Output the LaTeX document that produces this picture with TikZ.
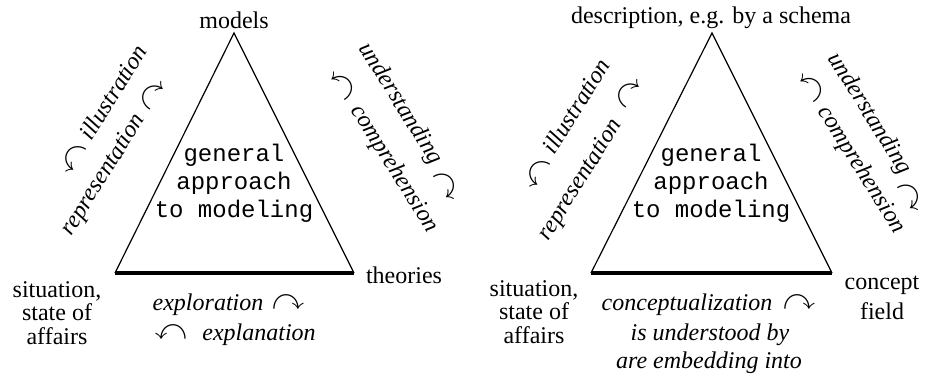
\documentclass[tikz,border=0pt]{standalone}
\usepackage{amssymb}
\usepackage{fontspec}
\setmainfont{Liberation Serif}
\setmonofont{Liberation Mono}

\tikzset{
	vertex/.style={font=\fontsize{12}{11.8}\selectfont, align=center},
	turn/.style={font=\fontsize{12}{14.4}\selectfont\itshape, align=center},
	arr/.style={font=\fontsize{12}{14.4}\selectfont, inner sep=0pt, scale=1.35},
	core/.style={font=\fontsize{12}{14}\selectfont\ttfamily, align=center},
	edge/.style={line width=0.6pt, line join=miter},
	base/.style={line width=1.6pt}
}

\begin{document}
\begin{tikzpicture}[x=0.5pt, y=-0.5pt]
	\useasboundingbox (0,0) rectangle (935,376);

	% left triangle
	\coordinate (topL) at (234,33);
	\coordinate (leftL) at (115,273);
	\coordinate (rightL) at (354,273);
	\draw[edge] (leftL) -- (topL) -- (rightL);
	\draw[base] (leftL) -- (rightL);

	\node[core] (coreL) at (234,183) {general\\approach\\to modeling};
	\node[vertex] (modelsL) at (234,20) {models};
	\node[vertex] (sitL) at (57,313) {situation,\\state of\\affairs};
	\node[vertex] (theoL) at (404,275) {theories};

	\node[turn, rotate=58] (illL) at (113,92) {illustration};
	\node[arr, rotate=58] (illArrL) at (73,158) {$\curvearrowleft$};
	\node[turn, rotate=58] (repL) at (104,175) {representation};
	\node[arr, rotate=58] (repArrL) at (152,94) {$\curvearrowright$};

	\node[turn, rotate=-58] (undL) at (400,104) {understanding};
	\node[arr, rotate=-58] (undArrL) at (447,186) {$\curvearrowright$};
	\node[turn, rotate=-58] (comL) at (394,169) {comprehension};
	\node[arr, rotate=-58] (comArrL) at (343,85) {$\curvearrowleft$};

	\node[turn] (explorL) at (208,305) {exploration};
	\node[arr] (explorArrL) at (288,303) {$\curvearrowright$};
	\node[turn] (explanL) at (259,335) {explanation};
	\node[arr] (explanArrL) at (171,333) {$\curvearrowleft$};

	% right triangle
	\coordinate (topR) at (712,33);
	\coordinate (leftR) at (591,273);
	\coordinate (rightR) at (832,273);
	\draw[edge] (leftR) -- (topR) -- (rightR);
	\draw[base] (leftR) -- (rightR);

	\node[core] (coreR) at (711,183) {general\\approach\\to modeling};
	\node[vertex] (descR) at (711,18) {description, e.g. by a schema};
	\node[vertex] (sitR) at (534,312) {situation,\\state of\\affairs};
	\node[vertex, font=\fontsize{12}{15}\selectfont] (fieldR) at (882,298) {concept\\field};

	\node[turn, rotate=58] (illR) at (576,106) {illustration};
	\node[arr, rotate=58] (illArrR) at (537,173) {$\curvearrowleft$};
	\node[turn, rotate=58] (repR) at (581,180) {representation};
	\node[arr, rotate=58] (repArrR) at (628,92) {$\curvearrowright$};

	\node[turn, rotate=-58] (undR) at (869,114) {understanding};
	\node[arr, rotate=-58] (undArrR) at (911,197) {$\curvearrowright$};
	\node[turn, rotate=-58] (comR) at (861,170) {comprehension};
	\node[arr, rotate=-58] (comArrR) at (812,87) {$\curvearrowleft$};

	\node[turn] (concR) at (687,305) {conceptualization};
	\node[arr] (concArrR) at (799,303) {$\curvearrowright$};
	\node[turn] (undsR) at (710,335) {is understood by};
	\node[turn] (embR) at (709,363) {are embedding into};
\end{tikzpicture}
\end{document}
